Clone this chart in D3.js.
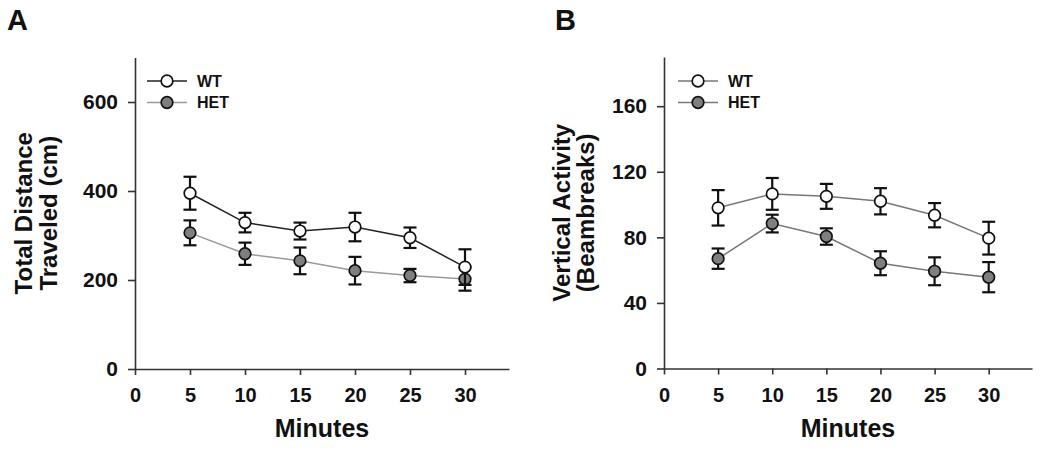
<!DOCTYPE html>
<html><head><meta charset="utf-8">
<script src="https://cdn.jsdelivr.net/npm/d3@7"></script>
<style>body{margin:0;background:#fff}svg{display:block}text{font-family:Arial,"Liberation Sans",sans-serif;font-weight:bold;fill:#111}</style>
</head><body>
<svg id="c" width="1050" height="451"></svg>
<script>
const minutes = [5, 10, 15, 20, 25, 30];
const xTicks = [0, 5, 10, 15, 20, 25, 30];
const seriesNames = ["WT", "HET"];
// Panel A: Total Distance Traveled (cm)
const distWT = [395, 329, 310, 319, 295, 229];
const distWTerr = [37, 22, 19, 32, 23, 40];
const distHET = [306, 259, 243, 221, 210, 202];
const distHETerr = [28, 25, 30, 31, 15, 26];
const distTicks = [0, 200, 400, 600];
// Panel B: Vertical Activity (Beambreaks)
const vertWT = [98, 106.5, 105, 102, 93.5, 79.5];
const vertWTerr = [10.8, 9.7, 7.6, 8, 7.4, 10];
const vertHET = [67, 88.4, 80.5, 64.2, 59.3, 55.7];
const vertHETerr = [6.2, 5.4, 5, 7.3, 8.5, 9.2];
const vertTicks = [0, 40, 80, 120, 160];

const svg = d3.select("#c");

function panel(cfg){
  const g = svg.append("g");
  const x = d3.scaleLinear().domain([0, 34]).range([cfg.x0, cfg.x1]);
  const y = d3.scaleLinear().domain([0, cfg.ymax]).range([cfg.y0, cfg.y1]);
  // axes
  const ya = g.append("g").attr("transform", `translate(${cfg.x0},0)`)
    .call(d3.axisLeft(y).tickValues(cfg.yticks).tickSize(7).tickPadding(10).tickSizeOuter(0));
  ya.select(".domain").attr("stroke", "#333").attr("stroke-width", 1.6);
  ya.selectAll(".tick line").attr("stroke", "#333").attr("stroke-width", 1.6);
  ya.selectAll(".tick text").style("font-size", "21px").attr("fill", "#111");
  const xa = g.append("g").attr("transform", `translate(0,${cfg.y0})`)
    .call(d3.axisBottom(x).tickValues(xTicks).tickSize(6).tickPadding(13).tickSizeOuter(0));
  xa.select(".domain").attr("stroke", "#333").attr("stroke-width", 1.6);
  xa.selectAll(".tick line").attr("stroke", "#333").attr("stroke-width", 1.6);
  xa.selectAll(".tick text").style("font-size", "20px").attr("fill", "#111");
  // labels
  g.append("text").attr("x", cfg.labelX).attr("y", 30).style("font-size", "29px").text(cfg.letter);
  g.append("text").attr("x", cfg.minX).attr("y", 437)
    .attr("text-anchor", "middle").style("font-size", "25px").text("Minutes");
  const cy = (cfg.y0 + cfg.y1) / 2;
  cfg.ylabel.forEach((t, i) => {
    g.append("text").attr("transform", `translate(${cfg.ylx[i]},${cy}) rotate(-90)`)
      .attr("text-anchor", "middle").style("font-size", "24px").text(t);
  });
  // series
  const series = [
    {name: seriesNames[0], v: cfg.wt, e: cfg.wtErr, fill: "#fff", line: cfg.wtLine},
    {name: seriesNames[1], v: cfg.het, e: cfg.hetErr, fill: "#7f7f7f", line: cfg.hetLine}
  ];
  const line = d3.line().x(d => x(d[0])).y(d => y(d[1]));
  series.slice().reverse().forEach(s => {
    g.append("path").datum(minutes.map((m, i) => [m, s.v[i]]))
      .attr("d", line).attr("fill", "none").attr("stroke", s.line).attr("stroke-width", 1.5);
  });
  series.slice().reverse().forEach(s => {
    const eg = g.append("g");
    minutes.forEach((m, i) => {
      const xx = x(m), yt = y(s.v[i] + s.e[i]), yb = y(s.v[i] - s.e[i]);
      eg.append("line").attr("x1", xx).attr("x2", xx).attr("y1", yt).attr("y2", yb).attr("stroke", "#111").attr("stroke-width", 2.2);
      [yt, yb].forEach(yy => eg.append("line").attr("x1", xx - 6.5).attr("x2", xx + 6.5).attr("y1", yy).attr("y2", yy).attr("stroke", "#111").attr("stroke-width", 2.2));
    });
    eg.selectAll("circle").data(minutes).enter().append("circle")
      .attr("cx", d => x(d)).attr("cy", (d, i) => y(s.v[i])).attr("r", 5.8)
      .attr("fill", s.fill).attr("stroke", "#111").attr("stroke-width", 1.7);
  });
  // legend
  series.forEach((s, i) => {
    const ly = 81 + i * 21.5;
    const lx = cfg.legX;
    g.append("line").attr("x1", lx).attr("x2", lx + 40).attr("y1", ly).attr("y2", ly).attr("stroke", s.line).attr("stroke-width", 1.5);
    g.append("circle").attr("cx", lx + 20).attr("cy", ly).attr("r", 5.8).attr("fill", s.fill).attr("stroke", "#111").attr("stroke-width", 1.7);
    g.append("text").attr("x", lx + 50).attr("y", ly).attr("dy", "0.36em").style("font-size", "16px").text(s.name);
  });
}

panel({x0: 135, x1: 509, y0: 369, y1: 57.5, ymax: 700, yticks: distTicks,
  wt: distWT, wtErr: distWTerr, het: distHET, hetErr: distHETerr,
  wtLine: "#222", hetLine: "#9a9a9a", letter: "A", labelX: 7, minX: 322,
  ylabel: ["Total Distance", "Traveled (cm)"], ylx: [32, 57], legX: 147});

panel({x0: 664, x1: 1032, y0: 368.5, y1: 57, ymax: 190, yticks: vertTicks,
  wt: vertWT, wtErr: vertWTerr, het: vertHET, hetErr: vertHETerr,
  wtLine: "#777", hetLine: "#777", letter: "B", labelX: 555, minX: 848,
  ylabel: ["Vertical Activity", "(Beambreaks)"], ylx: [570, 594], legX: 678});
</script>
</body></html>
